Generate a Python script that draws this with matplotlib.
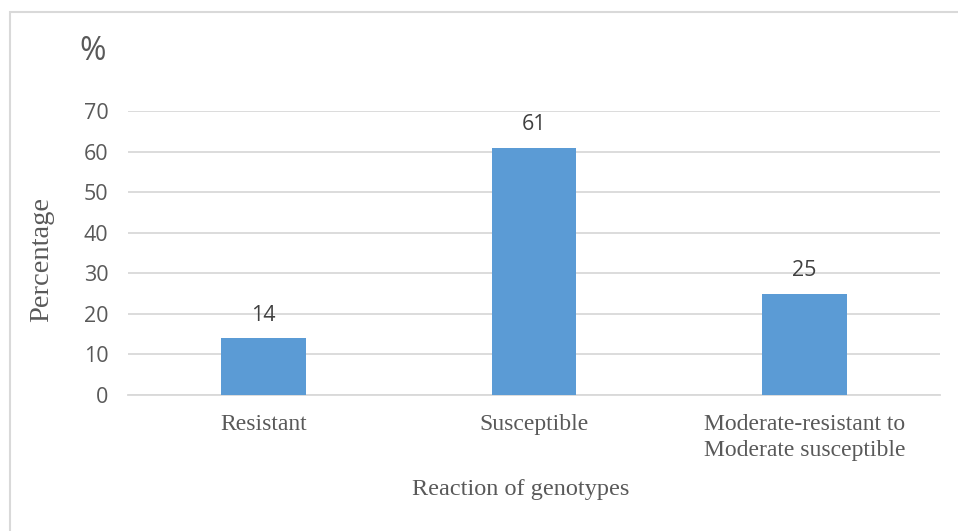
import matplotlib
matplotlib.use("Agg")
import matplotlib.pyplot as plt
from matplotlib.patches import Rectangle

# reaction classes and share of genotypes (%)
categories = ["Resistant", "Susceptible", "Moderate-resistant to\nModerate susceptible"]
percent = [14, 61, 25]
yticks = [0, 10, 20, 30, 40, 50, 60, 70]

bar_color = "#5B9BD5"
grid_color = "#D9D9D9"
tick_color = "#595959"
label_color = "#404040"
sans = ["Open Sans", "DejaVu Sans"]
serif = ["Liberation Serif", "DejaVu Serif"]

fig = plt.figure(figsize=(9.58, 5.31), dpi=100)
ax = fig.add_axes([128 / 958, 136 / 531, 812 / 958, 284 / 531])

x = list(range(len(categories)))
bars = ax.bar(x, percent, width=0.314, color=bar_color, zorder=3)
for b, v in zip(bars, percent):
    ax.annotate(str(v), (b.get_x() + b.get_width() / 2, v), xytext=(0, 9),
                textcoords="offset points", ha="center", va="bottom",
                fontsize=15.5, color=label_color, family=sans)

ax.set_xlim(-0.5, 2.5)
ax.set_ylim(0, 70)
ax.set_yticks(yticks)
ax.set_yticklabels([str(t) for t in yticks], family=sans, fontsize=15.5, color=tick_color)
ax.set_xticks(x)
ax.set_xticklabels(categories, family=serif, fontsize=17, color=tick_color, linespacing=1.3)
ax.tick_params(axis="both", length=0)
ax.tick_params(axis="y", pad=14)
ax.tick_params(axis="x", pad=14)
ax.grid(axis="y", color=grid_color, linewidth=1.3, zorder=0)
for s in ["top", "right", "left"]:
    ax.spines[s].set_visible(False)
ax.spines["bottom"].set_color(grid_color)
ax.spines["bottom"].set_linewidth(1.3)

fig.text(521 / 958, 1 - 490 / 531, "Reaction of genotypes", ha="center", va="center",
         family=serif, fontsize=17.5, color=tick_color)
fig.text(42 / 958, 1 - 260 / 531, "Percentage", rotation=90, ha="center", va="center",
         family=serif, fontsize=20.5, color=tick_color)
fig.text(93 / 958, 1 - 52 / 531, "%", ha="center", va="center",
         family=sans, fontsize=23, color=tick_color)

# chart area outline
fig.patches.append(Rectangle((10 / 958, -0.05), 1.2, 1 - 12 / 531 + 0.05,
                             transform=fig.transFigure, fill=False,
                             edgecolor=grid_color, linewidth=1.5))

fig.savefig("out.png", dpi=100)
